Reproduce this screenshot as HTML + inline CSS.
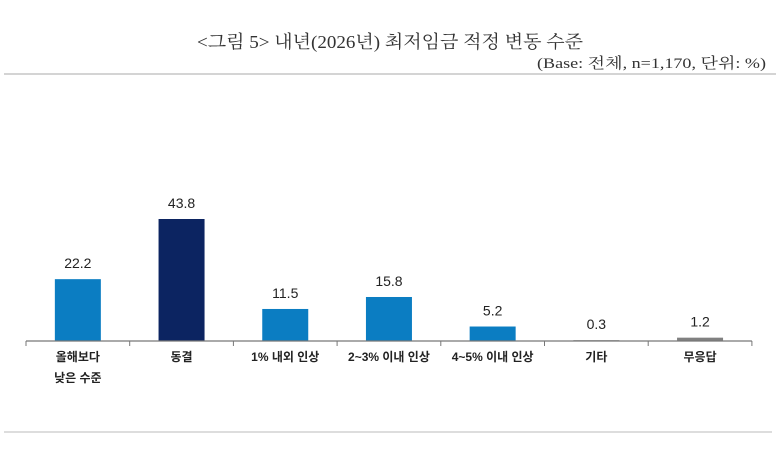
<!DOCTYPE html>
<html><head><meta charset="utf-8"><style>
body{margin:0;background:#fff;width:780px;height:462px;overflow:hidden}
svg text{font-family:"Liberation Sans","Noto Sans CJK KR",sans-serif}
</style></head><body>
<svg id="chart" width="780" height="462" xmlns="http://www.w3.org/2000/svg">
<text x="390" y="48" text-anchor="middle" font-size="18" fill="#333" textLength="386" lengthAdjust="spacingAndGlyphs" style="font-family:'Liberation Serif','Noto Serif CJK SC',serif">&lt;그림 5&gt; 내년(2026년) 최저임금 적정 변동 수준</text>
<text x="766" y="68" text-anchor="end" font-size="15" fill="#333" textLength="229" lengthAdjust="spacingAndGlyphs" style="font-family:'Liberation Serif','Noto Serif CJK SC',serif">(Base: 전체, n=1,170, 단위: %)</text>
<line x1="4" y1="74" x2="776" y2="74" stroke="#aaa" stroke-width="1"/>
<line x1="4" y1="432" x2="772" y2="432" stroke="#bbb" stroke-width="1"/>
<g id="plot"></g>
</svg>
<script>
const categories=[["올해보다","낮은 수준"],["동결"],["1% 내외 인상"],["2~3% 이내 인상"],["4~5% 이내 인상"],["기타"],["무응답"]];
const values=[22.2,43.8,11.5,15.8,5.2,0.3,1.2];
const valueLabels=["22.2","43.8","11.5","15.8","5.2","0.3","1.2"];
const colors=["#0b7dc2","#0c2461","#0b7dc2","#0b7dc2","#0b7dc2","#8c8c8c","#808080"];
const ns="http://www.w3.org/2000/svg";
const g=document.getElementById('plot');
const x0=26,step=103.7,axisY=341,scale=122/43.8,barW=46;
const xPos=i=>x0+step*i;
const yPos=v=>axisY-v*scale;
function mk(t,a){const e=document.createElementNS(ns,t);for(const k in a)e.setAttribute(k,a[k]);g.appendChild(e);return e;}
values.forEach((v,i)=>{
  const cx=xPos(i)+step/2;
  const r=mk('rect',{x:cx-barW/2,y:yPos(v),width:barW,height:Math.max(axisY-yPos(v),1),fill:colors[i]});
  
  
  const t=mk('text',{x:cx,y:yPos(v)-11,'text-anchor':'middle','font-size':'14',fill:'#222'});
  t.textContent=valueLabels[i];
  
  
  categories[i].forEach((s,j)=>{
    const c=mk('text',{x:cx,y:361+j*21,'text-anchor':'middle','font-size':'12','font-weight':'bold',fill:'#222'});
    c.textContent=s;
    
    
  });
});
const ax=mk('line',{x1:x0,y1:axisY,x2:xPos(categories.length),y2:axisY,stroke:'#777','stroke-width':1.2});


for(let i=0;i<=categories.length;i++){
  const tk=mk('line',{x1:xPos(i),y1:axisY,x2:xPos(i),y2:axisY+5,stroke:'#777','stroke-width':1});
  
  
}
</script>
</body></html>
